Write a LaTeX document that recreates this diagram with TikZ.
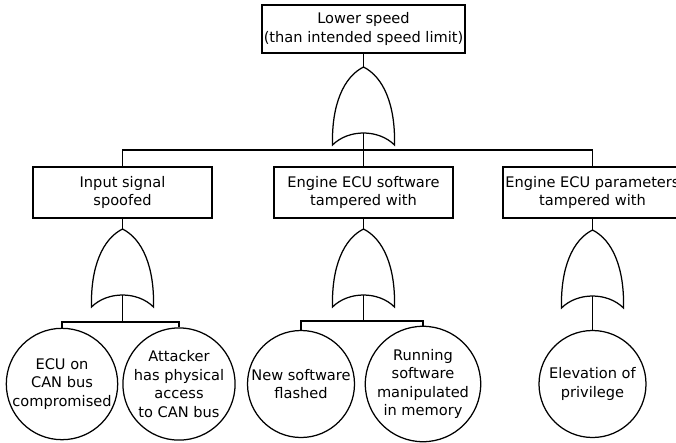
\documentclass[tikz,border=0pt]{standalone}
\usepackage{fontspec}
\setmainfont{DejaVu Sans}
\usepackage{tikz}
\usetikzlibrary{positioning}

\tikzset{
  event/.style={draw,rectangle,minimum width=179pt,minimum height=51pt,inner sep=0pt,align=center},
  basic/.style={draw,circle,minimum size=107pt,inner sep=0pt,align=center},
  orgate/.pic={
    \draw (0,0) .. controls (-20,10) and (-32,38) .. (-31,78)
      .. controls (-15,62) and (15,62) .. (31,78)
      .. controls (32,38) and (20,10) .. cycle;
    \coordinate (-in) at (0,0);
    \coordinate (-out) at (0,66);
  }
}

\begin{document}
\begin{tikzpicture}[x=1pt,y=-1pt,line width=1.25pt,node distance=100pt,on grid,font=\fontsize{14.6}{18.5}\selectfont]
  \useasboundingbox (0,0) rectangle (676,442);
  \node[event,minimum width=203pt,minimum height=48pt] (top) at (363.5,29) {Lower speed\\(than intended speed limit)};

  \node[event] (sw) [below=163.5pt of top] {Engine ECU software\\tampered with};
  \node[event] (sig) [left=241pt of sw] {Input signal\\spoofed};
  \node[event] (par) [right=229pt of sw] {Engine ECU parameters\\tampered with};

  \node[basic] (ecu) at (62,384) {ECU on\\CAN bus\\compromised};
  \node[basic] (phys) [right=117pt of ecu] {Attacker\\has physical\\access\\to CAN bus};
  \node[basic] (flash) at (301,384) {New software\\flashed};
  \node[basic] (mem) [right=122pt of flash] {Running\\software\\manipulated\\in memory};
  \node[basic] (priv) at (592.5,384) {Elevation of\\privilege};

  \pic (g0) at (363.5,67) {orgate};
  \pic (g1) at (122.5,229) {orgate};
  \pic (g2) at (363.5,229) {orgate};
  \pic (g3) at (592.5,230) {orgate};

  \draw (top.south) -- (g0-in);
  \draw (g0-out) -- ++(0,17) -| (sig.north);
  \draw (g0-out) -- ++(0,17) -| (par.north);
  \draw (g0-out) -- (sw.north);

  \draw (sig.south) -- (g1-in);
  \draw (g1-out) -- ++(0,27) -| (ecu.north);
  \draw (g1-out) -- ++(0,27) -| (phys.north);

  \draw (sw.south) -- (g2-in);
  \draw (g2-out) -- ++(0,26) -| (flash.north);
  \draw (g2-out) -- ++(0,26) -| (mem.north);

  \draw (par.south) -- (g3-in);
  \draw (g3-out) -- (priv.north);
\end{tikzpicture}
\end{document}
